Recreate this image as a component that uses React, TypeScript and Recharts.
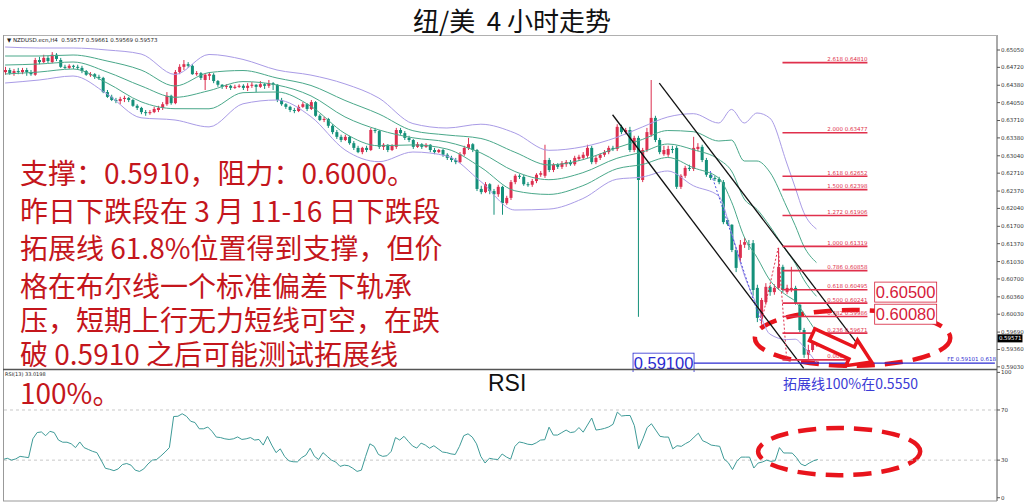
import React from 'react';
import { ComposedChart, Bar, Line, XAxis, YAxis, ReferenceLine, ReferenceArea, ReferenceDot } from 'recharts';

const SLOT_COUNT = 234;

const openPrices = [
  0.6463, 0.6467, 0.6461, 0.6465, 0.6463, 0.6467, 0.6463, 0.6458, 0.6486, 0.6482,
  0.6490, 0.6482, 0.6496, 0.6486, 0.6473, 0.6471, 0.6475, 0.6473, 0.6471, 0.6465,
  0.6458, 0.6459, 0.6454, 0.6452, 0.6425, 0.6416, 0.6410, 0.6408, 0.6412, 0.6414,
  0.6410, 0.6399, 0.6395, 0.6387, 0.6385, 0.6387, 0.6391, 0.6395, 0.6402, 0.6418,
  0.6404, 0.6463, 0.6473, 0.6478, 0.6475, 0.6459, 0.6461, 0.6448, 0.6456, 0.6458,
  0.6446, 0.6439, 0.6435, 0.6437, 0.6433, 0.6435, 0.6437, 0.6433, 0.6437, 0.6439,
  0.6435, 0.6440, 0.6437, 0.6442, 0.6439, 0.6410, 0.6402, 0.6397, 0.6391, 0.6389,
  0.6397, 0.6402, 0.6393, 0.6406, 0.6380, 0.6372, 0.6374, 0.6361, 0.6349, 0.6340,
  0.6334, 0.6340, 0.6328, 0.6319, 0.6311, 0.6319, 0.6315, 0.6353, 0.6351, 0.6321,
  0.6325, 0.6315, 0.6321, 0.6353, 0.6347, 0.6338, 0.6334, 0.6321, 0.6326, 0.6321,
  0.6325, 0.6315, 0.6311, 0.6315, 0.6306, 0.6300, 0.6296, 0.6292, 0.6307, 0.6319,
  0.6326, 0.6315, 0.6241, 0.6235, 0.6250, 0.6237, 0.6231, 0.6245, 0.6214, 0.6224,
  0.6254, 0.6266, 0.6264, 0.6250, 0.6249, 0.6256, 0.6268, 0.6266, 0.6296, 0.6277,
  0.6287, 0.6283, 0.6288, 0.6292, 0.6288, 0.6298, 0.6300, 0.6304, 0.6319, 0.6292,
  0.6300, 0.6306, 0.6311, 0.6319, 0.6317, 0.6359, 0.6349, 0.6353, 0.6315, 0.6338,
  0.6258, 0.6315, 0.6344, 0.6376, 0.6334, 0.6307, 0.6306, 0.6317, 0.6319, 0.6245,
  0.6266, 0.6281, 0.6279, 0.6317, 0.6321, 0.6296, 0.6268, 0.6262, 0.6260, 0.6254,
  0.6182, 0.6173, 0.6125, 0.6110, 0.6135, 0.6136, 0.6138, 0.6053, 0.5996, 0.6026,
  0.6055, 0.6045, 0.6053, 0.6093, 0.6045, 0.6049, 0.6053, 0.6021, 0.5973, 0.5926,
  0.5935, 0.5945,
];
const highPrices = [
  0.6473, 0.6471, 0.6469, 0.6471, 0.6471, 0.6471, 0.6467, 0.6490, 0.6492, 0.6496,
  0.6494, 0.6501, 0.6499, 0.6490, 0.6477, 0.6478, 0.6477, 0.6477, 0.6475, 0.6467,
  0.6463, 0.6461, 0.6458, 0.6454, 0.6429, 0.6420, 0.6414, 0.6416, 0.6418, 0.6416,
  0.6412, 0.6402, 0.6397, 0.6391, 0.6391, 0.6397, 0.6399, 0.6406, 0.6425, 0.6420,
  0.6467, 0.6478, 0.6486, 0.6482, 0.6478, 0.6465, 0.6463, 0.6461, 0.6463, 0.6461,
  0.6448, 0.6440, 0.6440, 0.6439, 0.6439, 0.6440, 0.6440, 0.6442, 0.6444, 0.6440,
  0.6446, 0.6442, 0.6448, 0.6444, 0.6440, 0.6414, 0.6404, 0.6399, 0.6395, 0.6401,
  0.6406, 0.6404, 0.6410, 0.6408, 0.6383, 0.6378, 0.6376, 0.6364, 0.6353, 0.6344,
  0.6344, 0.6342, 0.6332, 0.6323, 0.6321, 0.6323, 0.6357, 0.6357, 0.6353, 0.6328,
  0.6326, 0.6326, 0.6357, 0.6357, 0.6351, 0.6342, 0.6336, 0.6330, 0.6328, 0.6328,
  0.6326, 0.6319, 0.6317, 0.6317, 0.6309, 0.6304, 0.6300, 0.6311, 0.6323, 0.6338,
  0.6328, 0.6317, 0.6247, 0.6254, 0.6252, 0.6241, 0.6249, 0.6247, 0.6228, 0.6258,
  0.6269, 0.6269, 0.6268, 0.6254, 0.6260, 0.6271, 0.6275, 0.6325, 0.6300, 0.6290,
  0.6290, 0.6294, 0.6296, 0.6296, 0.6304, 0.6306, 0.6311, 0.6325, 0.6323, 0.6304,
  0.6309, 0.6315, 0.6323, 0.6323, 0.6364, 0.6363, 0.6357, 0.6359, 0.6342, 0.6342,
  0.6319, 0.6357, 0.6448, 0.6380, 0.6338, 0.6323, 0.6323, 0.6323, 0.6323, 0.6269,
  0.6285, 0.6287, 0.6340, 0.6328, 0.6325, 0.6300, 0.6271, 0.6266, 0.6264, 0.6258,
  0.6186, 0.6174, 0.6129, 0.6144, 0.6148, 0.6144, 0.6144, 0.6059, 0.6034, 0.6062,
  0.6059, 0.6060, 0.6129, 0.6097, 0.6059, 0.6093, 0.6057, 0.6024, 0.5977, 0.5945,
  0.5954, 0.5962,
];
const lowPrices = [
  0.6458, 0.6458, 0.6456, 0.6459, 0.6459, 0.6456, 0.6456, 0.6456, 0.6478, 0.6480,
  0.6480, 0.6480, 0.6484, 0.6471, 0.6469, 0.6469, 0.6469, 0.6467, 0.6461, 0.6456,
  0.6454, 0.6450, 0.6448, 0.6423, 0.6414, 0.6408, 0.6404, 0.6402, 0.6406, 0.6406,
  0.6397, 0.6391, 0.6383, 0.6380, 0.6382, 0.6385, 0.6387, 0.6391, 0.6399, 0.6401,
  0.6402, 0.6459, 0.6467, 0.6471, 0.6458, 0.6456, 0.6448, 0.6429, 0.6448, 0.6442,
  0.6435, 0.6431, 0.6431, 0.6429, 0.6431, 0.6433, 0.6429, 0.6427, 0.6433, 0.6425,
  0.6433, 0.6431, 0.6433, 0.6429, 0.6406, 0.6399, 0.6393, 0.6387, 0.6385, 0.6387,
  0.6395, 0.6389, 0.6391, 0.6378, 0.6370, 0.6368, 0.6357, 0.6345, 0.6336, 0.6330,
  0.6332, 0.6325, 0.6315, 0.6309, 0.6307, 0.6311, 0.6313, 0.6347, 0.6317, 0.6315,
  0.6311, 0.6313, 0.6317, 0.6344, 0.6334, 0.6330, 0.6317, 0.6319, 0.6317, 0.6319,
  0.6311, 0.6307, 0.6309, 0.6302, 0.6296, 0.6292, 0.6288, 0.6290, 0.6304, 0.6315,
  0.6311, 0.6237, 0.6231, 0.6233, 0.6231, 0.6192, 0.6226, 0.6192, 0.6211, 0.6220,
  0.6250, 0.6260, 0.6247, 0.6245, 0.6245, 0.6252, 0.6264, 0.6262, 0.6273, 0.6273,
  0.6279, 0.6279, 0.6283, 0.6285, 0.6285, 0.6294, 0.6296, 0.6300, 0.6288, 0.6288,
  0.6296, 0.6302, 0.6307, 0.6313, 0.6313, 0.6345, 0.6345, 0.6311, 0.6311, 0.5998,
  0.6254, 0.6311, 0.6340, 0.6330, 0.6307, 0.6304, 0.6302, 0.6309, 0.6241, 0.6241,
  0.6262, 0.6275, 0.6275, 0.6313, 0.6292, 0.6264, 0.6258, 0.6256, 0.6250, 0.6174,
  0.6171, 0.6121, 0.6083, 0.6102, 0.6129, 0.6125, 0.6038, 0.5988, 0.5983, 0.6021,
  0.6038, 0.6040, 0.6049, 0.6045, 0.6041, 0.6045, 0.6021, 0.5969, 0.5920, 0.5916,
  0.5931, 0.5941,
];
const closePrices = [
  0.6467, 0.6461, 0.6465, 0.6463, 0.6467, 0.6463, 0.6459, 0.6486, 0.6482, 0.6490,
  0.6484, 0.6496, 0.6488, 0.6473, 0.6471, 0.6475, 0.6473, 0.6471, 0.6465, 0.6458,
  0.6459, 0.6454, 0.6452, 0.6425, 0.6416, 0.6410, 0.6408, 0.6412, 0.6414, 0.6410,
  0.6399, 0.6395, 0.6387, 0.6385, 0.6387, 0.6393, 0.6395, 0.6402, 0.6418, 0.6404,
  0.6463, 0.6473, 0.6478, 0.6475, 0.6459, 0.6461, 0.6452, 0.6458, 0.6459, 0.6446,
  0.6439, 0.6435, 0.6437, 0.6433, 0.6435, 0.6437, 0.6433, 0.6437, 0.6439, 0.6435,
  0.6440, 0.6437, 0.6442, 0.6439, 0.6410, 0.6402, 0.6397, 0.6391, 0.6389, 0.6397,
  0.6402, 0.6393, 0.6406, 0.6380, 0.6372, 0.6374, 0.6361, 0.6349, 0.6340, 0.6334,
  0.6340, 0.6328, 0.6319, 0.6311, 0.6319, 0.6315, 0.6353, 0.6351, 0.6321, 0.6325,
  0.6315, 0.6323, 0.6353, 0.6347, 0.6338, 0.6334, 0.6321, 0.6326, 0.6321, 0.6325,
  0.6315, 0.6311, 0.6315, 0.6306, 0.6300, 0.6296, 0.6292, 0.6307, 0.6319, 0.6326,
  0.6315, 0.6241, 0.6235, 0.6250, 0.6237, 0.6231, 0.6245, 0.6214, 0.6224, 0.6254,
  0.6266, 0.6264, 0.6250, 0.6249, 0.6256, 0.6268, 0.6271, 0.6296, 0.6277, 0.6287,
  0.6283, 0.6290, 0.6292, 0.6288, 0.6300, 0.6302, 0.6306, 0.6319, 0.6292, 0.6300,
  0.6306, 0.6311, 0.6319, 0.6317, 0.6359, 0.6349, 0.6353, 0.6315, 0.6338, 0.6258,
  0.6315, 0.6349, 0.6376, 0.6334, 0.6311, 0.6315, 0.6317, 0.6315, 0.6245, 0.6266,
  0.6281, 0.6279, 0.6319, 0.6321, 0.6296, 0.6268, 0.6262, 0.6260, 0.6254, 0.6178,
  0.6174, 0.6125, 0.6091, 0.6135, 0.6140, 0.6135, 0.6049, 0.5996, 0.6030, 0.6055,
  0.6045, 0.6053, 0.6093, 0.6049, 0.6053, 0.6053, 0.6024, 0.5973, 0.5926, 0.5935,
  0.5948, 0.5957,
];

const rsiValues = [
  30.5, 31.5, 30, 31, 33, 32.5, 32, 47, 52, 52.5,
  49.5, 53, 52, 46, 44.3, 44.3, 43, 40, 44.5, 40,
  38.5, 37, 36, 30, 23.5, 22.7, 21.6, 23, 26.5, 27.3,
  26, 22, 21, 23, 27, 30, 30.5, 33.3, 36.5, 40,
  64.8, 65, 67, 65, 61, 60, 55, 55, 56.4, 53,
  48.4, 48, 47, 46.5, 47, 48.5, 46.5, 47, 48, 46,
  46.5, 42, 49, 42, 36, 39, 33, 29.5, 28.7, 28.6,
  32, 34, 39.5, 33, 30.5, 36, 33, 30, 28.5, 25,
  26, 25.5, 23.5, 21, 22, 33, 43, 41, 34.5, 33,
  33.5, 37, 48, 46, 49, 45, 41.3, 39.6, 43.6, 42,
  39.5, 41.5, 39, 36.5, 36, 35, 34.5, 41, 49.5, 51,
  48.4, 43, 33, 27.7, 31.5, 30.8, 30.5, 34.9, 32.5, 30.8,
  41, 44.5, 43.8, 42.7, 42.3, 43.8, 46, 46.3, 56.3, 50,
  50, 52, 54, 52, 52.5, 56, 52.3, 58, 63.6, 54,
  54.5, 55.3, 56.5, 58.6, 68.3, 65.2, 65.6, 65.6, 57.5, 39,
  47, 56, 59, 54, 49, 48.4, 48.4, 39, 41.5, 41,
  43.2, 45, 48.4, 51.5, 45.5, 44, 42, 41.5, 41, 31,
  28, 22.5, 29, 32.4, 32.4, 32.4, 23.7, 27.7, 28.5, 30,
  29, 29.5, 40, 35.7, 35.7, 35.6, 32, 27, 25.5, 27.7,
  29.5, 30.5,
];

const bandIndex = [0, 8, 16, 24, 32, 40, 48, 56, 64, 72, 80, 88, 96, 104, 112, 120, 128, 136, 144, 150, 156, 162, 168, 171, 174, 177, 180, 184, 186, 188, 191];
const bandUpper2 = [0.65107, 0.65088, 0.65088, 0.6505, 0.64974, 0.64585, 0.64965, 0.64871, 0.6467, 0.64573, 0.64406, 0.64136, 0.63652, 0.63568, 0.6364, 0.63473, 0.63144, 0.63211, 0.6339, 0.63587, 0.63777, 0.6384, 0.63663, 0.63921, 0.63663, 0.63853, 0.63758, 0.62903, 0.62436, 0.61966, 0.61649];
const bandUpper1 = [0.64936, 0.64936, 0.64955, 0.64841, 0.6467, 0.64366, 0.64621, 0.6466, 0.64518, 0.64376, 0.64092, 0.63834, 0.63517, 0.63435, 0.63369, 0.63108, 0.62865, 0.62966, 0.63192, 0.6335, 0.6352, 0.63498, 0.63321, 0.63338, 0.62941, 0.62941, 0.62732, 0.62067, 0.61716, 0.61326, 0.61011];
const bandMiddle = [0.64765, 0.64784, 0.64822, 0.64632, 0.64368, 0.64151, 0.64277, 0.6445, 0.64385, 0.64178, 0.63779, 0.63532, 0.63382, 0.63302, 0.63095, 0.62742, 0.62586, 0.62719, 0.62992, 0.63112, 0.63264, 0.63156, 0.62971, 0.62751, 0.62219, 0.62023, 0.61706, 0.61223, 0.60995, 0.60689, 0.6037];
const bandLower1 = [0.64594, 0.64632, 0.64689, 0.64423, 0.64066, 0.63935, 0.63933, 0.64239, 0.64252, 0.6398, 0.63465, 0.6323, 0.63247, 0.63169, 0.62821, 0.62375, 0.62306, 0.62472, 0.62793, 0.62875, 0.63008, 0.62814, 0.62618, 0.62166, 0.61497, 0.61109, 0.6068, 0.60386, 0.60275, 0.60053, 0.59691];
const bandLower2 = [0.64423, 0.6448, 0.64556, 0.64214, 0.63762, 0.6372, 0.63589, 0.64028, 0.641, 0.63783, 0.63152, 0.62928, 0.63112, 0.63036, 0.6255, 0.6201, 0.62027, 0.62227, 0.62595, 0.62637, 0.62751, 0.62472, 0.62276, 0.61581, 0.60775, 0.60195, 0.59654, 0.59548, 0.59555, 0.59413, 0.59107];

const priceTicks = [0.6505, 0.6472, 0.6438, 0.6405, 0.6371, 0.6338, 0.6304, 0.6271, 0.6237, 0.6204, 0.6170, 0.6137, 0.6103, 0.6070, 0.6036, 0.6003, 0.5969, 0.5936, 0.5903];
const rsiTicks = [0, 30, 70, 100];

const fibRatios = ['2.618', '2.000', '1.618', '1.500', '1.272', '1.000', '0.786', '0.618', '0.500', '0.382', '0.236', '0.000'];
const fibPrices = [0.64810, 0.63477, 0.62652, 0.62398, 0.61906, 0.61319, 0.60858, 0.60495, 0.60241, 0.59986, 0.59671, 0.59162];

const supportPrice = 0.591;
const lastPrice = 0.59571;
const boxLevels = [0.6045, 0.6003];
const boxTexts = ['0.60500', '0.60080'];

const titleText = '纽/美  4 小时走势';
const noteLines = [
  '支撑：0.5910，阻力：0.6000。',
  '昨日下跌段在 3 月 11-16 日下跌段',
  '拓展线 61.8%位置得到支撑，但价',
  '格在布尔线一个标准偏差下轨承',
  '压，短期上行无力短线可空，在跌',
  '破 0.5910 之后可能测试拓展线',
  '100%。',
];
const noteBaselines = [184, 222, 259, 297, 331, 365, 404];

const UP = '#dc2f4f';
const DOWN = '#14907a';
const BB_OUT = '#a99be6';
const BB_IN = '#4aa88a';
const RSI_C = '#3f9b98';
const FIB = '#e0304c';
const RED_ANN = '#e8141c';
const BLUE = '#2b2bd0';
const TEXT_RED = '#c4161c';
const CJK = "'Noto Sans CJK SC', 'Noto Sans', sans-serif";

const rows = Array.from({ length: SLOT_COUNT }, (_, i) => {
  const row: any = { i };
  if (i < closePrices.length) {
    row.o = openPrices[i];
    row.h = highPrices[i];
    row.l = lowPrices[i];
    row.c = closePrices[i];
    row.rsi = rsiValues[i];
  }
  const b = bandIndex.indexOf(i);
  if (b >= 0) {
    row.u2 = bandUpper2[b];
    row.u1 = bandUpper1[b];
    row.m = bandMiddle[b];
    row.l1 = bandLower1[b];
    row.l2 = bandLower2[b];
  }
  return row;
});

const Candle = (props: any) => {
  const { x, y, width, height } = props;
  const d = props.payload ?? rows[props.index];
  if (!d || d.h == null) return null;
  const top = Math.min(y, y + height);
  const bot = Math.max(y, y + height);
  const span = d.h - d.l;
  const toY = (v: number) => (span > 0 ? top + ((d.h - v) / span) * (bot - top) : top);
  const up = d.c >= d.o;
  const color = up ? UP : DOWN;
  const cx = x + width / 2;
  const yo = toY(d.o);
  const yc = toY(d.c);
  const bt = Math.min(yo, yc);
  const bh = Math.max(1, Math.abs(yo - yc));
  return (
    <g>
      <line x1={cx} x2={cx} y1={top} y2={bot} stroke={color} strokeWidth={1} />
      <rect x={cx - 1.5} y={bt} width={3} height={bh} fill={color} />
    </g>
  );
};

const DashedEllipse = (p: any) => {
  const h = Math.abs(p.height);
  const top = Math.min(p.y, p.y + p.height);
  return (
    <ellipse cx={p.x + p.width / 2} cy={top + h / 2} rx={p.width / 2} ry={h / 2}
      fill="none" stroke={RED_ANN} strokeWidth={4.5} strokeDasharray="18 10" />
  );
};

const ArrowShape = (p: any) => {
  const { x1, y1, x2, y2 } = p;
  const dx = x2 - x1;
  const dy = y2 - y1;
  const len = Math.hypot(dx, dy) || 1;
  const ux = dx / len, uy = dy / len, nx = -uy, ny = ux;
  const sw = 6.5, hw = 14, hl = 22;
  const bx = x2 - ux * hl, by = y2 - uy * hl;
  const pts = [
    [x1 + nx * sw, y1 + ny * sw], [bx + nx * sw, by + ny * sw], [bx + nx * hw, by + ny * hw],
    [x2, y2], [bx - nx * hw, by - ny * hw], [bx - nx * sw, by - ny * sw], [x1 - nx * sw, y1 - ny * sw],
  ];
  return <polygon points={pts.map((q) => q.join(',')).join(' ')} fill="#ffffff" stroke={RED_ANN} strokeWidth={3.5} />;
};

const fibShape = (label: string) => (p: any) => (
  <g>
    <line x1={p.x1} y1={p.y1} x2={p.x2} y2={p.y2} stroke={FIB} strokeWidth={1.6} />
    <text x={p.x2} y={p.y1 - 1.5} textAnchor="end" fontSize={5.5} fill={FIB} fontFamily="DejaVu Sans">{label}</text>
  </g>
);

const boxShape = (text: string, color: string, w: number) => (p: any) => (
  <g>
    <rect x={p.cx - w / 2} y={p.cy - 10} width={w} height={20} fill="#ffffff" stroke={color} strokeWidth={0.8} />
    <text x={p.cx} y={p.cy + 6} textAnchor="middle" fontSize={16.5} fill={color} fontFamily="'Liberation Sans', Arial, sans-serif">{text}</text>
  </g>
);

const PriceTag = (p: any) => (
  <g>
    <rect x={p.cx + 2.6} y={p.cy - 4} width={25} height={8} fill="#000000" />
    <text x={p.cx + 4} y={p.cy + 2} fontSize={5.5} fill="#ffffff" fontFamily="DejaVu Sans">{lastPrice.toFixed(5)}</text>
  </g>
);

const FeLabel = (p: any) => (
  <text x={p.cx + 1} y={p.cy - 2} textAnchor="end" fontSize={5.5} fill={BLUE} fontFamily="DejaVu Sans">FE 0.59101  0.618</text>
);

const tickStyle = { fontSize: 5.5, fill: '#333', fontFamily: 'DejaVu Sans' };

export default function App() {
  return (
    <div style={{ position: 'absolute', left: 0, top: 0, width: 1024, height: 503, background: '#ffffff', overflow: 'hidden' }}>
      <div style={{ position: 'absolute', left: 0, top: 0 }}>
        <ComposedChart width={1024} height={372} data={rows} margin={{ top: 35, right: 0, bottom: 2, left: 3 }}>
          <XAxis dataKey="i" hide />
          <YAxis orientation="right" type="number" domain={[0.5897, 0.65335]} ticks={priceTicks} allowDataOverflow
            width={27} interval={0} tick={tickStyle} tickFormatter={(v: number) => v.toFixed(5)}
            tickSize={3} tickMargin={1} axisLine={{ stroke: '#555' }} tickLine={{ stroke: '#555' }} />
          <Line dataKey="u2" stroke={BB_OUT} strokeWidth={1} dot={false} connectNulls type="monotone" isAnimationActive={false} />
          <Line dataKey="l2" stroke={BB_OUT} strokeWidth={1} dot={false} connectNulls type="monotone" isAnimationActive={false} />
          <Line dataKey="u1" stroke={BB_IN} strokeWidth={1} dot={false} connectNulls type="monotone" isAnimationActive={false} />
          <Line dataKey="m" stroke={BB_IN} strokeWidth={1} dot={false} connectNulls type="monotone" isAnimationActive={false} />
          <Line dataKey="l1" stroke={BB_IN} strokeWidth={1} dot={false} connectNulls type="monotone" isAnimationActive={false} />
          <Bar dataKey={(d: any) => (d.h == null ? null : [d.l, d.h])} shape={Candle} barSize={3} isAnimationActive={false} />

          <ReferenceLine segment={[{ x: 154, y: 0.6442 }, { x: 201, y: 0.5943 }]} stroke="#111" strokeWidth={1.3} ifOverflow="visible" />
          <ReferenceLine segment={[{ x: 143, y: 0.6382 }, { x: 188, y: 0.5900 }]} stroke="#111" strokeWidth={1.3} ifOverflow="visible" />
          <ReferenceLine segment={[{ x: 166, y: 0.6275 }, { x: 178, y: 0.5986 }]} stroke="#5050e0" strokeWidth={1} strokeDasharray="2 2" ifOverflow="visible" />
          <ReferenceLine segment={[{ x: 178, y: 0.5986 }, { x: 182, y: 0.6129 }]} stroke={FIB} strokeWidth={1} strokeDasharray="2 2" ifOverflow="visible" />
          <ReferenceLine segment={[{ x: 182, y: 0.6129 }, { x: 184, y: 0.5916 }]} stroke={FIB} strokeWidth={1} strokeDasharray="2 2" ifOverflow="visible" />

          {fibPrices.map((fp, k) => (
            <ReferenceLine key={'fib' + k} segment={[{ x: 183, y: fp }, { x: 203, y: fp }]} ifOverflow="visible"
              shape={fibShape(fibRatios[k] + '  ' + fp.toFixed(5))} />
          ))}

          <ReferenceLine segment={[{ x: 162, y: supportPrice }, { x: 233, y: supportPrice }]} stroke={BLUE} strokeWidth={1.3} ifOverflow="visible" />
          <ReferenceDot x={155} y={supportPrice} r={0} ifOverflow="visible" shape={boxShape('0.59100', BLUE, 61)} />
          <ReferenceDot x={233} y={supportPrice} r={0} ifOverflow="visible" shape={FeLabel} />
          {boxLevels.map((lv, k) => (
            <ReferenceDot key={'box' + k} x={212} y={lv} r={0} ifOverflow="visible" shape={boxShape(boxTexts[k], '#d6203a', 62)} />
          ))}
          <ReferenceDot x={233} y={lastPrice} r={0} ifOverflow="visible" shape={PriceTag} />

          <ReferenceArea x1={177} x2={222} y1={0.5905} y2={0.6011} ifOverflow="visible" shape={DashedEllipse} />
          <ReferenceLine segment={[{ x: 190, y: 0.5964 }, { x: 204, y: 0.5912 }]} ifOverflow="visible" shape={ArrowShape} />
        </ComposedChart>
      </div>

      <div style={{ position: 'absolute', left: 0, top: 368 }}>
        <ComposedChart width={1024} height={135} data={rows} margin={{ top: 2, right: 0, bottom: 2, left: 3 }}>
          <XAxis dataKey="i" hide />
          <YAxis orientation="right" type="number" domain={[-2.6, 101.9]} ticks={rsiTicks} allowDataOverflow
            width={27} interval={0} tick={tickStyle} tickSize={3} tickMargin={1}
            axisLine={{ stroke: '#555' }} tickLine={{ stroke: '#555' }} />
          <ReferenceLine y={70} stroke="#c8c8c8" strokeDasharray="3 3" />
          <ReferenceLine y={30} stroke="#c8c8c8" strokeDasharray="3 3" />
          <Line dataKey="rsi" stroke={RSI_C} strokeWidth={1} dot={false} connectNulls type="linear" isAnimationActive={false} />
          <ReferenceArea x1={177} x2={215} y1={18} y2={55.6} ifOverflow="visible" shape={DashedEllipse} />
        </ComposedChart>
      </div>

      <svg width={1024} height={503} style={{ position: 'absolute', left: 0, top: 0, pointerEvents: 'none' }}>
        <line x1={3} y1={35.5} x2={997} y2={35.5} stroke="#b0b0b0" strokeWidth={1} />
        <line x1={3.5} y1={35} x2={3.5} y2={501} stroke="#999" strokeWidth={1} />
        <line x1={3} y1={369.5} x2={997} y2={369.5} stroke="#555" strokeWidth={1.5} />
        <line x1={3} y1={501} x2={997} y2={501} stroke="#999" strokeWidth={1} />

        <text x={512} y={31} textAnchor="middle" fontSize={26} fill="#111" fontFamily={CJK} style={{ whiteSpace: 'pre' }}>{titleText}</text>
        <text x={7} y={42} fontSize={5.5} fill="#222" fontFamily="DejaVu Sans" style={{ whiteSpace: 'pre' }}>▼ NZDUSD.ecn,H4  0.59577 0.59661 0.59569 0.59573</text>
        <text x={5} y={376} fontSize={5} fill="#222" fontFamily="DejaVu Sans">RSI(13) 33.0198</text>

        {noteLines.map((t, k) => (
          <text key={'n' + k} x={20} y={noteBaselines[k]} fontSize={28} fill={TEXT_RED} fontFamily={CJK} style={{ whiteSpace: 'pre' }}>{t}</text>
        ))}

        <text x={488} y={391} fontSize={23} fill="#111" fontFamily="'Liberation Sans', Arial, sans-serif">RSI</text>
        <text x={783} y={389} fontSize={14} fill="#3b3bd6" fontFamily={CJK}>拓展线100%在0.5550</text>
      </svg>
    </div>
  );
}
